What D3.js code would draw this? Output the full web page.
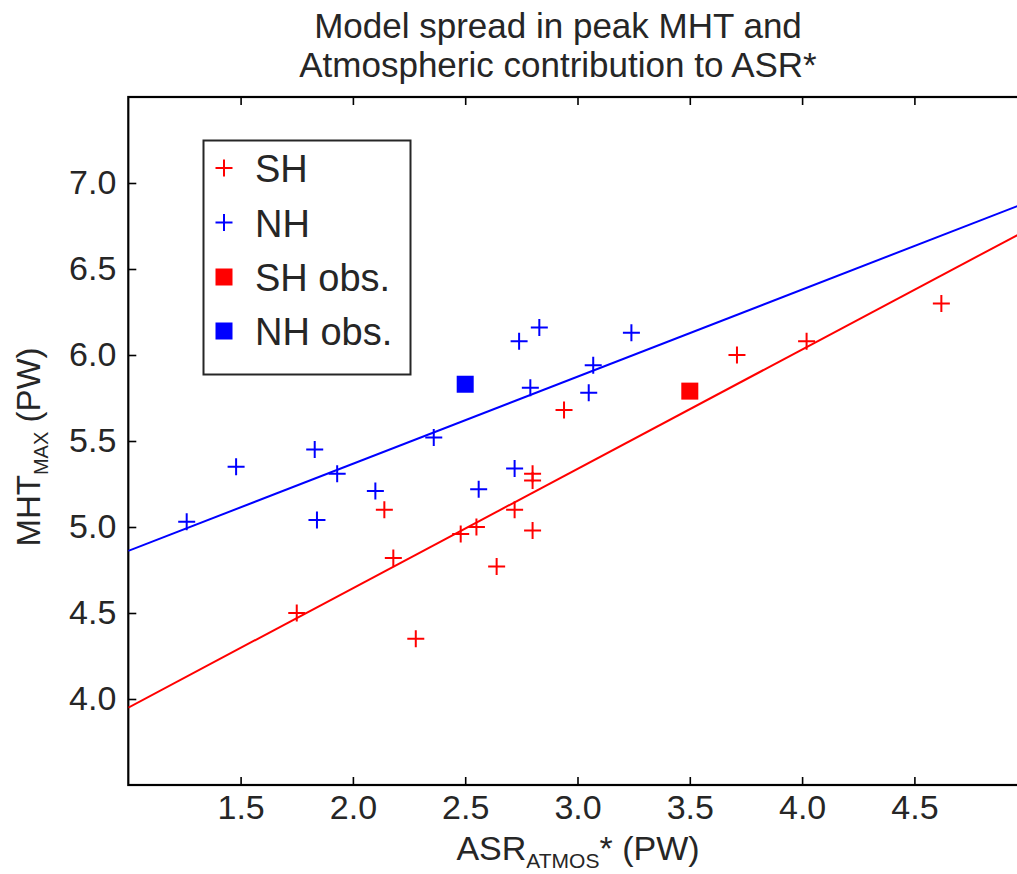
<!DOCTYPE html>
<html>
<head>
<meta charset="utf-8">
<script src="https://cdn.jsdelivr.net/npm/d3@7"></script>
<style>
  html, body { margin: 0; padding: 0; background: #fff; }
  svg { display: block; font-family: "Liberation Sans", Arial, Helvetica, sans-serif; }
</style>
</head>
<body>
<svg id="chart" width="1017" height="874"></svg>
<script>
// ---- data ----
const shX = [1.75, 2.14, 2.18, 2.28, 2.48, 2.55, 2.64, 2.72, 2.80, 2.80, 2.80, 2.94, 3.71, 4.02, 4.62];
const shY = [4.50, 5.10, 4.82, 4.35, 4.96, 5.00, 4.77, 5.10, 5.31, 5.27, 4.98, 5.68, 6.00, 6.08, 6.30];
const nhX = [1.26, 1.48, 1.83, 1.84, 1.93, 2.10, 2.36, 2.56, 2.72, 2.74, 2.79, 2.83, 3.05, 3.07, 3.24];
const nhY = [5.03, 5.35, 5.45, 5.04, 5.31, 5.21, 5.52, 5.22, 5.34, 6.08, 5.81, 6.16, 5.78, 5.94, 6.13];
const shObs = [3.50, 5.79];
const nhObs = [2.50, 5.83];
const fitX = [1, 5];
const shFitY = [3.950, 6.726];
const nhFitY = [4.861, 6.887];
const xTicks = [1.5, 2.0, 2.5, 3.0, 3.5, 4.0, 4.5];
const yTicks = [4.0, 4.5, 5.0, 5.5, 6.0, 6.5, 7.0];
const legendLabels = ["SH", "NH", "SH obs.", "NH obs."];
const titleLines = ["Model spread in peak MHT and", "Atmospheric contribution to ASR*"];

const RED = "#ff0000", BLUE = "#0000ff", TXT = "#262626";

const svg = d3.select("#chart");
const x = d3.scaleLinear().domain([1, 5]).range([128.3, 1026.7]);
const y = d3.scaleLinear().domain([3.5, 7.5]).range([785, 97]);

const [x0, x1] = x.range();
const [yb, yt] = y.range();

svg.append("defs").append("clipPath").attr("id", "plotclip")
  .append("rect").attr("x", x0).attr("y", yt).attr("width", x1 - x0).attr("height", yb - yt);

// frame
svg.append("rect").attr("x", x0).attr("y", yt).attr("width", x1 - x0).attr("height", yb - yt)
  .attr("fill", "none").attr("stroke", "#000").attr("stroke-width", 2.2);

function styleAxis(g, labels) {
  g.select(".domain").remove();
  g.selectAll(".tick line").attr("stroke", "#000").attr("stroke-width", 1.6);
  g.selectAll(".tick text").attr("fill", TXT).style("font-size", "34px")
    .style("font-family", "'Liberation Sans', Arial, sans-serif");
  if (!labels) g.selectAll(".tick text").remove();
}

svg.append("g").attr("transform", `translate(0,${yb})`)
  .call(d3.axisBottom(x).tickValues(xTicks).tickFormat(d3.format(".1f")).tickSize(-8).tickPadding(10))
  .call(g => styleAxis(g, true));
svg.append("g").attr("transform", `translate(0,${yt})`)
  .call(d3.axisTop(x).tickValues(xTicks).tickSize(-8))
  .call(g => styleAxis(g, false));
svg.append("g").attr("transform", `translate(${x0},0)`)
  .call(d3.axisLeft(y).tickValues(yTicks).tickFormat(d3.format(".1f")).tickSize(-8).tickPadding(12))
  .call(g => styleAxis(g, true));
svg.append("g").attr("transform", `translate(${x1},0)`)
  .call(d3.axisRight(y).tickValues(yTicks).tickSize(-8))
  .call(g => styleAxis(g, false));

// fit lines
const plot = svg.append("g").attr("clip-path", "url(#plotclip)");
const line = d3.line().x(d => x(d[0])).y(d => y(d[1]));
plot.append("path").datum(fitX.map((v, i) => [v, nhFitY[i]]))
  .attr("d", line).attr("fill", "none").attr("stroke", BLUE).attr("stroke-width", 2);
plot.append("path").datum(fitX.map((v, i) => [v, shFitY[i]]))
  .attr("d", line).attr("fill", "none").attr("stroke", RED).attr("stroke-width", 2);

// plus markers
const plusPath = "M-8.5,0H8.5M0,-8.5V8.5";
function plusses(xs, ys, color) {
  plot.append("g").selectAll("path").data(xs.map((v, i) => [v, ys[i]])).join("path")
    .attr("d", plusPath).attr("transform", d => `translate(${x(d[0])},${y(d[1])})`)
    .attr("stroke", color).attr("stroke-width", 2).attr("fill", "none");
}
plusses(shX, shY, RED);
plusses(nhX, nhY, BLUE);

// observation squares
const sq = 17;
[[shObs, RED], [nhObs, BLUE]].forEach(([o, c]) => {
  plot.append("rect").attr("x", x(o[0]) - sq / 2).attr("y", y(o[1]) - sq / 2)
    .attr("width", sq).attr("height", sq).attr("fill", c);
});

// legend
const lg = svg.append("g");
lg.append("rect").attr("x", 203.5).attr("y", 140.5).attr("width", 207).attr("height", 234)
  .attr("fill", "#fff").attr("stroke", "#262626").attr("stroke-width", 2);
const legendColors = [RED, BLUE, RED, BLUE];
const rowY = [168, 222.5, 277, 331];
legendLabels.forEach((lab, i) => {
  if (i < 2) {
    lg.append("path").attr("d", plusPath).attr("transform", `translate(224,${rowY[i]})`)
      .attr("stroke", legendColors[i]).attr("stroke-width", 2).attr("fill", "none");
  } else {
    lg.append("rect").attr("x", 224 - sq / 2).attr("y", rowY[i] - sq / 2)
      .attr("width", sq).attr("height", sq).attr("fill", legendColors[i]);
  }
  lg.append("text").attr("x", 255).attr("y", rowY[i] + 14).attr("fill", TXT)
    .style("font-size", "38px").text(lab);
});

// title
titleLines.forEach((t, i) => {
  svg.append("text").attr("x", 558).attr("y", 38 + i * 39).attr("text-anchor", "middle")
    .attr("fill", TXT).style("font-size", "35px").text(t);
});

// x label
const xl = svg.append("text").attr("x", 578).attr("y", 860).attr("text-anchor", "middle")
  .attr("fill", TXT).style("font-size", "34px");
xl.append("tspan").text("ASR");
xl.append("tspan").attr("dy", 8).style("font-size", "21px").text("ATMOS");
xl.append("tspan").attr("dy", -8).text("* (PW)");

// y label
const yl = svg.append("text").attr("transform", "translate(40,447) rotate(-90)")
  .attr("text-anchor", "middle").attr("fill", TXT).style("font-size", "33px");
yl.append("tspan").text("MHT");
yl.append("tspan").attr("dy", 8).style("font-size", "20px").text("MAX");
yl.append("tspan").attr("dy", -8).text(" (PW)");
</script>
</body>
</html>
